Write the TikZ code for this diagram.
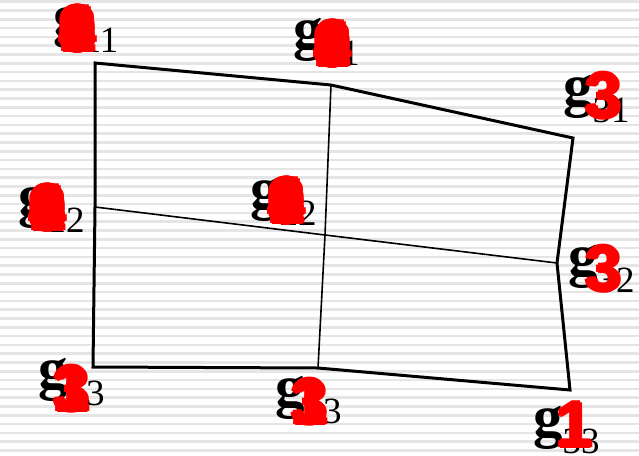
\documentclass[tikz,border=0pt]{standalone}
\usepackage{fontspec}
\setmainfont{Liberation Serif}
\newfontfamily\numfont{Liberation Sans}
\newcommand{\glabel}[1]{{\fontsize{59}{59}\selectfont\bfseries g}\raisebox{-17pt}{\fontsize{37}{37}\selectfont #1}}
% a heavy digit: the glyph laid down a few times, shifted a little
\newcommand{\fat}[1]{\makebox[0pt]{\kern-4pt#1}\makebox[0pt]{\kern4pt#1}\makebox[0pt]{\raisebox{1.5pt}{#1}}\makebox[0pt]{\raisebox{-1.5pt}{#1}}\makebox[0pt]{#1}}
\newcommand{\blob}{\fat{9}\fat{0}\fat{8}\fat{6}\fat{1}\fat{4}}
\newcommand{\mix}{\fat{3}\fat{1}}

\begin{document}
\begin{tikzpicture}[x=1pt, y=-1pt, lab/.style={inner sep=0pt, anchor=base west}, cnt/.style={inner sep=0pt, text=red, font={\numfont\bfseries\fontsize{65}{65}\selectfont}}, rim/.style={line width=3pt, line join=miter}, mid/.style={line width=1.6pt}]
	\useasboundingbox (0,0) rectangle (639,455);
	\fill[white] (0,0) rectangle (639,455);
	\foreach \i in {0,...,51} {\fill[gray!20] (0,{0.4+\i*8.8}) rectangle (639,{3.0+\i*8.8});}
	% grid points
	\coordinate (p11) at (95,63);
	\coordinate (p21) at (331,85);
	\coordinate (p31) at (573,138);
	\coordinate (p12) at (95,207);
	\coordinate (p22) at (325,235);
	\coordinate (p32) at (557,263);
	\coordinate (p13) at (93,367);
	\coordinate (p23) at (318,368);
	\coordinate (p33) at (570,390);
	\draw[mid] (p12) -- (p22) -- (p32);
	\draw[mid] (p21) -- (p22) -- (p23);
	\draw[rim] (p11) -- (p21) -- (p31) -- (p32) -- (p33) -- (p23) -- (p13) -- (p12) -- cycle;
	% labels
	\node[lab] (g11) at (53,35) {\glabel{11}};
	\node[lab] (g21) at (293,48) {\glabel{21}};
	\node[lab] (g31) at (563,105) {\glabel{31}};
	\node[lab] (g12) at (18,215) {\glabel{12}};
	\node[lab] (g22) at (250,208) {\glabel{22}};
	\node[lab] (g32) at (568,275) {\glabel{32}};
	\node[lab] (g13) at (38,388) {\glabel{13}};
	\node[lab] (g23) at (275,406) {\glabel{23}};
	\node[lab] (g33) at (533,436) {\glabel{33}};
	% counts
	\node[cnt] (n11) at (78,29) {\blob};
	\node[cnt] (n21) at (333,44) {\blob};
	\node[cnt] (n31) at (604,96) {\fat{3}};
	\node[cnt] (n12) at (48,208) {\blob};
	\node[cnt] (n22) at (287,201) {\blob};
	\node[cnt] (n32) at (604,269) {\fat{3}};
	\node[cnt] (n13) at (72,389) {\mix};
	\node[cnt] (n23) at (310,402) {\mix};
	\node[cnt] (n33) at (575,425) {\fat{1}};
\end{tikzpicture}
\end{document}
